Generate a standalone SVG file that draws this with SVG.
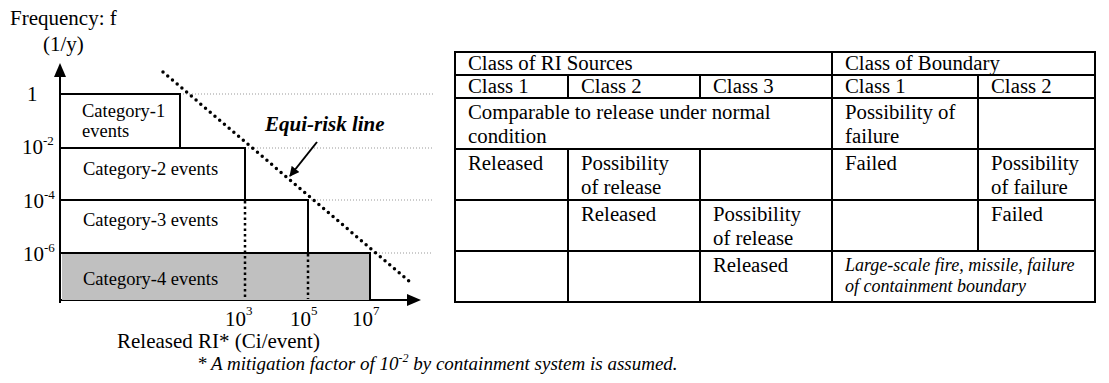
<svg xmlns="http://www.w3.org/2000/svg" width="1109" height="383" viewBox="0 0 1109 383">
<style>
text{font-family:"Liberation Serif","Times New Roman",serif;fill:#000}
.ax{font-size:21px}
.cat{font-size:18.5px}
.sup{font-size:13px}
.tb{font-size:20.8px}
.it{font-style:italic;font-size:18px}
.box{stroke:#000;stroke-width:2;fill:none}
.grid{stroke:#999;stroke-width:1;stroke-dasharray:1 2;fill:none}
.vd{stroke:#000;stroke-width:2.5;stroke-dasharray:2.5 3;fill:none}
.tl{stroke:#000;stroke-width:2;fill:none}
</style>
<defs>
<marker id="ah" viewBox="0 0 10 10" refX="9" refY="5" markerWidth="5" markerHeight="5" orient="auto" markerUnits="strokeWidth">
<path d="M0,0 L10,5 L0,10 Z" fill="#000"/>
</marker>
</defs>

<g id="chart">
<text class="ax" x="10" y="25">Frequency: f</text>
<text class="ax" x="43" y="51">(1/y)</text>
<line class="tl" x1="60" y1="74" x2="60" y2="303"/>
<polygon points="60,63 54,77 66,77" fill="#000"/>
<line class="tl" x1="59" y1="300" x2="410" y2="300"/>
<polygon points="421,300 407,294 407,306" fill="#000"/>
<text class="ax" x="27" y="101">1</text>
<text class="ax" x="22" y="154">10<tspan class="sup" dy="-9">-2</tspan></text>
<text class="ax" x="23" y="208">10<tspan class="sup" dy="-9">-4</tspan></text>
<text class="ax" x="23" y="261">10<tspan class="sup" dy="-9">-6</tspan></text>
<path class="grid" d="M180,94 H433 M245,148 H433 M308,200 H433 M370,253 H433"/>
<rect x="62" y="253" width="308" height="47" fill="#c0c0c0"/>
<path class="box" d="M60,94 H180 V148 M60,148 H245 V200 M60,200 H308 V253 M60,253 H370 V300"/>
<path class="vd" d="M245,201 V299 M308,254 V299"/>
<text class="cat" x="82" y="117">Category-1</text>
<text class="cat" x="82" y="137">events</text>
<text class="cat" x="83" y="175">Category-2 events</text>
<text class="cat" x="83" y="226">Category-3 events</text>
<text class="cat" x="83" y="285">Category-4 events</text>
<text class="ax" x="225" y="326">10<tspan class="sup" dy="-11">3</tspan></text>
<text class="ax" x="290" y="326">10<tspan class="sup" dy="-11">5</tspan></text>
<text class="ax" x="352" y="326">10<tspan class="sup" dy="-11">7</tspan></text>
<text class="ax" x="117" y="348">Released RI* (Ci/event)</text>
</g>

<g id="connectors">
<line x1="163" y1="72" x2="410" y2="282" stroke="#000" stroke-width="3.5" stroke-linecap="round" stroke-dasharray="0 6.2"/>
<line x1="317" y1="142" x2="290" y2="176" stroke="#000" stroke-width="2" marker-end="url(#ah)"/>
</g>
<g id="label-equirisk">
<text x="265" y="131" font-size="21" font-weight="bold" font-style="italic">Equi-risk line</text>
</g>

<g id="table">
<rect x="455" y="52" width="640" height="250" fill="none" stroke="#000" stroke-width="2"/>
<path class="tl" d="M455,75 H1095 M455,98 H1095 M455,149 H1095 M455,200 H1095 M455,251 H1095"/>
<path class="tl" d="M832,52 V302 M568,75 V98 M700,75 V98 M978,75 V251 M568,149 V302 M700,149 V302"/>
<text class="tb" x="468" y="70">Class of RI Sources</text>
<text class="tb" x="845" y="70">Class of Boundary</text>
<text class="tb" x="468" y="93">Class 1</text>
<text class="tb" x="581" y="93">Class 2</text>
<text class="tb" x="713" y="93">Class 3</text>
<text class="tb" x="845" y="93">Class 1</text>
<text class="tb" x="991" y="93">Class 2</text>
<text class="tb" x="468" y="119">Comparable to release under normal</text>
<text class="tb" x="468" y="143">condition</text>
<text class="tb" x="845" y="119">Possibility of</text>
<text class="tb" x="845" y="143">failure</text>
<text class="tb" x="468" y="170">Released</text>
<text class="tb" x="581" y="170">Possibility</text>
<text class="tb" x="581" y="194">of release</text>
<text class="tb" x="845" y="170">Failed</text>
<text class="tb" x="991" y="170">Possibility</text>
<text class="tb" x="991" y="194">of failure</text>
<text class="tb" x="581" y="221">Released</text>
<text class="tb" x="713" y="221">Possibility</text>
<text class="tb" x="713" y="245">of release</text>
<text class="tb" x="991" y="221">Failed</text>
<text class="tb" x="713" y="272">Released</text>
<text class="it" x="845" y="271">Large-scale fire, missile, failure</text>
<text class="it" x="845" y="292">of containment boundary</text>
</g>

<g id="note">
<text x="197" y="370" font-size="19" font-style="italic">* A mitigation factor of 10<tspan font-size="12" dy="-8">-2</tspan><tspan dy="8"> by containment system is assumed.</tspan></text>
</g>
</svg>
